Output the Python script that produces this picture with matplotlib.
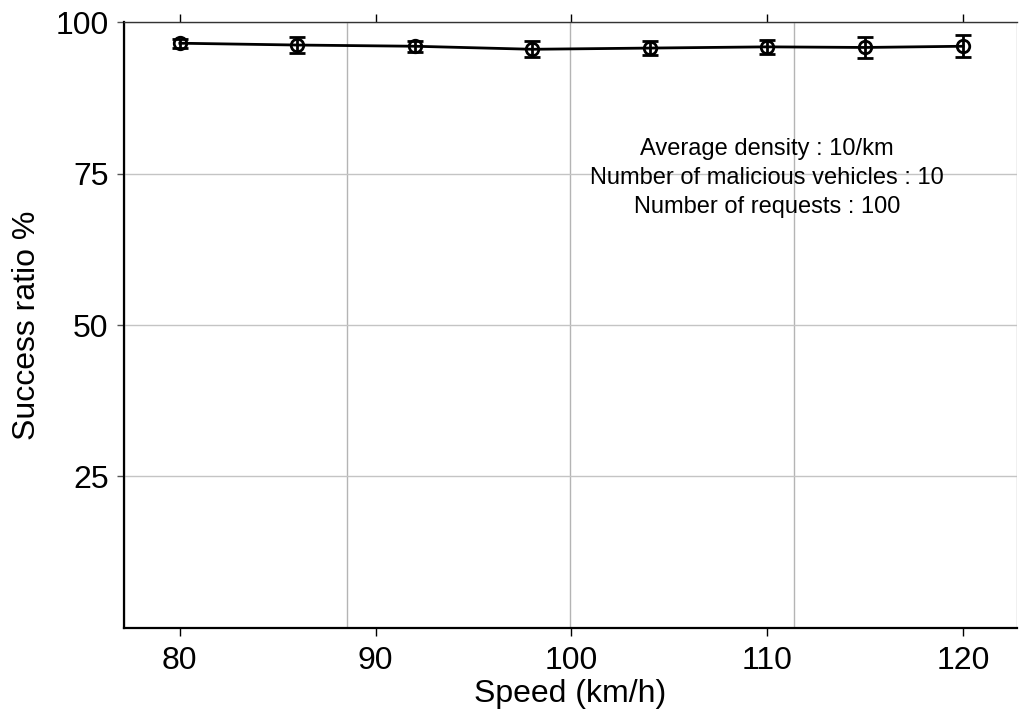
import matplotlib
matplotlib.use("Agg")
import matplotlib.pyplot as plt
import numpy as np
from matplotlib.ticker import FixedLocator

plt.rcParams["font.family"] = ["Liberation Sans", "DejaVu Sans"]

speeds = [80, 86, 92, 98, 104, 110, 115, 120]
success = [96.5, 96.2, 96.0, 95.5, 95.7, 95.9, 95.8, 96.0]
errors = [0.75, 1.3, 0.9, 1.3, 1.1, 1.1, 1.7, 1.8]

y_ticks = [25, 50, 75, 100]
x_ticks = [80, 90, 100, 110, 120]
info_lines = [
    "Average density : 10/km",
    "Number of malicious vehicles : 10",
    "Number of requests : 100",
]

TICK_FONT = 23
LABEL_FONT = 23
INFO_FONT = 17

fig = plt.figure(figsize=(10.19, 7.10), dpi=100)
ax = fig.add_axes([0.1217, 0.1155, 0.8763, 0.8535])

ax.errorbar(
    speeds,
    success,
    yerr=errors,
    color="black",
    linewidth=2.0,
    marker="o",
    markersize=9,
    markerfacecolor="none",
    markeredgewidth=2.0,
    elinewidth=2.0,
    capsize=5.5,
    capthick=2.0,
    zorder=3,
)

xmin, xmax = 77.15, 122.75
ax.set_xlim(xmin, xmax)
ax.set_ylim(0, 100)
ax.set_xticks(x_ticks)
ax.set_yticks(y_ticks)

# vertical grid splits the x range in quarters, horizontal grid follows y ticks
ax.xaxis.set_minor_locator(FixedLocator(np.linspace(xmin, xmax, 5)))
ax.grid(axis="x", which="minor", color="#b4b4b4", linewidth=1.0)
ax.grid(axis="y", which="major", color="#c4c4c4", linewidth=1.0)
ax.grid(axis="x", which="major", visible=False)
ax.tick_params(axis="x", which="minor", length=0)
ax.set_axisbelow(True)

ax.tick_params(axis="x", which="major", top=True, direction="out",
               length=6, width=1.0, labelsize=TICK_FONT, pad=7)
ax.tick_params(axis="y", which="major", direction="out",
               length=5, width=1.0, labelsize=TICK_FONT, pad=6,
               color="#555555")

for side in ["left", "bottom"]:
    ax.spines[side].set_linewidth(1.6)
ax.spines["top"].set_linewidth(1.0)
ax.spines["top"].set_color("#333333")
ax.spines["right"].set_visible(False)

ax.set_xlabel("Speed (km/h)", fontsize=LABEL_FONT, labelpad=2)
ax.set_ylabel("Success ratio %", fontsize=LABEL_FONT, labelpad=10)

ax.text(
    110,
    74.3,
    "\n".join(info_lines),
    fontsize=INFO_FONT,
    ha="center",
    va="center",
    linespacing=1.4,
)

fig.savefig("out.png", dpi=100)
